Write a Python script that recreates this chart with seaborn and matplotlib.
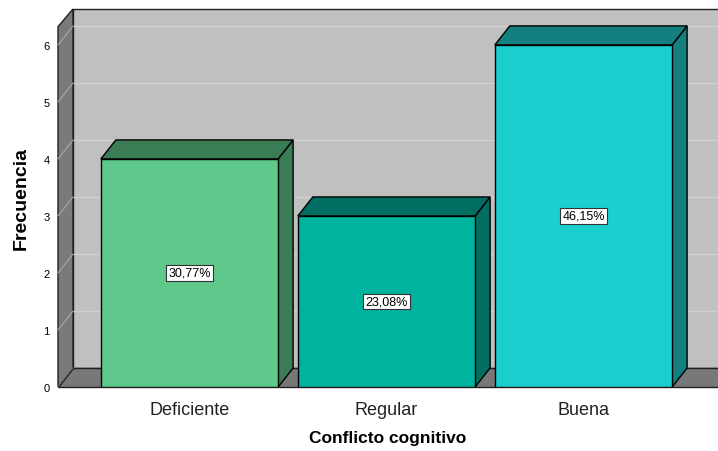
import matplotlib
matplotlib.use("Agg")
import matplotlib.pyplot as plt
from matplotlib.patches import Polygon, Rectangle
import seaborn as sns
import pandas as pd

categories = ["Deficiente", "Regular", "Buena"]
counts = [4, 3, 6]
pct_labels = ["30,77%", "23,08%", "46,15%"]
front_colors = ["#5ec98a", "#00b39e", "#1ccfcf"]
dark_colors = ["#3a7d55", "#006e60", "#137f7f"]
yticks = [0, 1, 2, 3, 4, 5, 6]

sns.set_theme(style="white")
plt.rcParams["font.family"] = ["Liberation Sans", "DejaVu Sans"]

fig = plt.figure(figsize=(7.18, 4.52), dpi=100)
W, H = 718, 452
ax = fig.add_axes([58 / W, 1 - 388 / H, 1 - 58 / W, (388 - 10) / H])
ax.set_facecolor("none")

dx, dy = 15 / 197, 19 / 57
xl, xr = -0.6675, 2.683
ytop_front = 6.32
ytop_back = 6.63

# back wall
ax.add_patch(Polygon([(xl + dx, dy), (xr + 1, dy), (xr + 1, ytop_back), (xl + dx, ytop_back)],
                     closed=True, facecolor="#c0c0c0", edgecolor="#202020", lw=1, zorder=0.5, clip_on=False))
# back-wall gridlines
for v in yticks[1:]:
    ax.plot([xl + dx, xr + 1], [v + dy, v + dy], color="#d0d0d0", lw=1, zorder=0.6, clip_on=False)
# left wall
ax.add_patch(Polygon([(xl, 0), (xl + dx, dy), (xl + dx, ytop_back), (xl, ytop_front)],
                     closed=True, facecolor="#7a7a7a", edgecolor="#202020", lw=1, zorder=0.7, clip_on=False))
for v in yticks:
    ax.plot([xl, xl + dx], [v, v + dy], color="#a8a8a8", lw=0.8, zorder=0.75, clip_on=False)
# floor
ax.add_patch(Polygon([(xl, 0), (xr + 1, 0), (xr + 1, dy), (xl + dx, dy)],
                     closed=True, facecolor="#787878", edgecolor="#202020", lw=1, zorder=0.8, clip_on=False))

df = pd.DataFrame({"cat": categories, "n": counts})
sns.barplot(data=df, x="cat", y="n", hue="cat", palette=front_colors, width=0.9, saturation=1,
            edgecolor="black", linewidth=1, legend=False, ax=ax, zorder=3)

bars = [p for p in ax.patches if isinstance(p, Rectangle)]
for i, p in enumerate(bars):
    x0 = p.get_x()
    x1 = x0 + p.get_width()
    h = p.get_height()
    ax.add_patch(Polygon([(x1, 0), (x1 + dx, dy), (x1 + dx, h + dy), (x1, h)], closed=True,
                         facecolor=dark_colors[i], edgecolor="black", lw=1, zorder=2.5))
    ax.add_patch(Polygon([(x0, h), (x0 + dx, h + dy), (x1 + dx, h + dy), (x1, h)], closed=True,
                         facecolor=dark_colors[i], edgecolor="black", lw=1, zorder=2.5))
    ax.text(x0 + p.get_width() / 2, h / 2, pct_labels[i], ha="center", va="center", fontsize=9,
            color="black", zorder=5,
            bbox=dict(boxstyle="square,pad=0.15", facecolor="white", edgecolor="#333333", lw=0.8))

ax.set_xlim(xl, xr)
ax.set_ylim(0, 6.63)
ax.set_yticks(yticks)
ax.set_yticklabels([str(v) for v in yticks], fontsize=8, color="black")
ax.set_xticks(range(len(categories)))
ax.set_xticklabels(categories, fontsize=13, color="#222222")
ax.tick_params(axis="y", length=0, pad=6)
ax.tick_params(axis="x", length=0, pad=10)
for s in ax.spines.values():
    s.set_visible(False)
ax.set_xlabel("Conflicto cognitivo", fontsize=12.5, fontweight="bold", labelpad=9, color="black")
ax.set_ylabel("Frecuencia", fontsize=14, fontweight="bold", labelpad=10, color="black")
ax.grid(False)

fig.savefig("out.png", dpi=100)
